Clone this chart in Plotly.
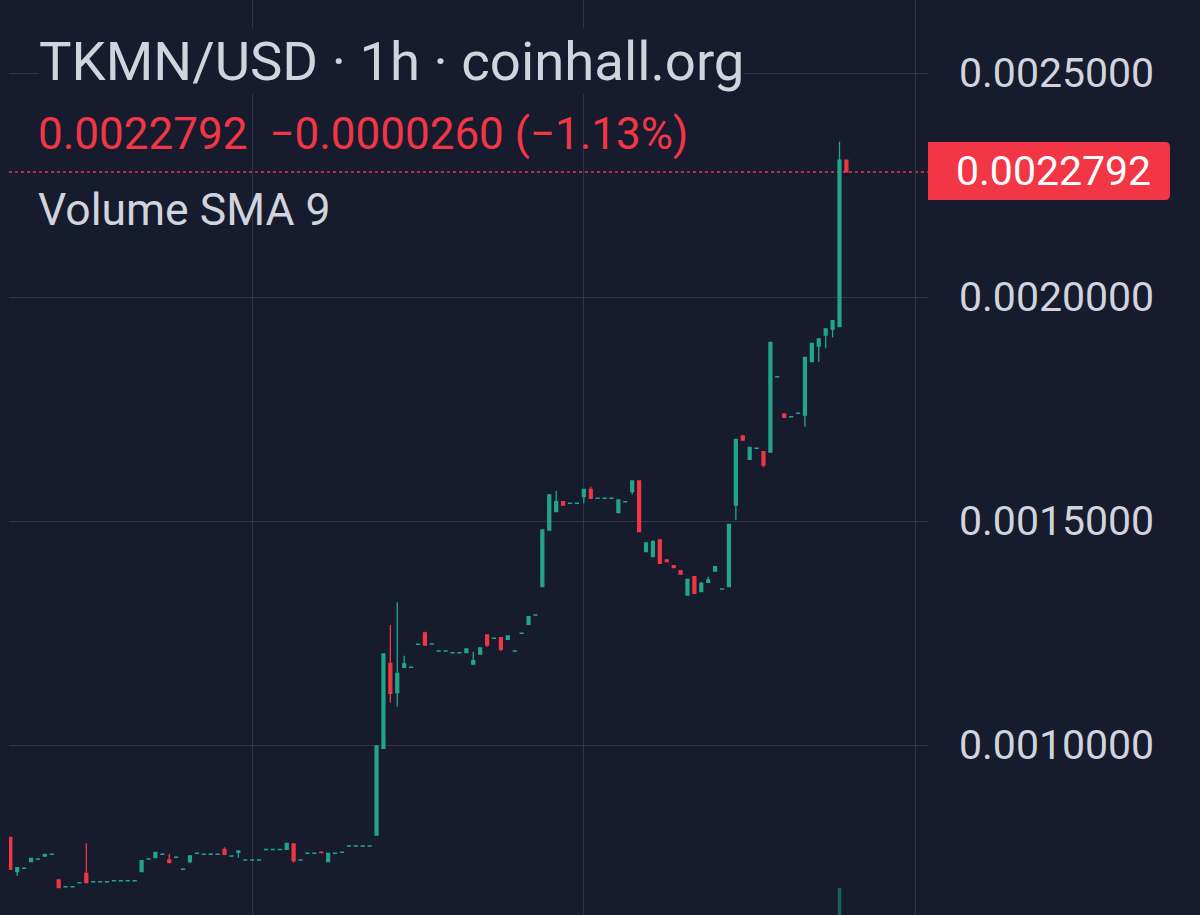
import plotly.graph_objects as go

# ---- data ----
open_ = [
    0.0007940, 0.0007172, 0.0007246, 0.0007395, 0.0007453, 0.0007522, 0.0007558, 0.0006987, 0.0006835, 0.0006835,
    0.0006924, 0.0007136, 0.0006947, 0.0006947, 0.0006947, 0.0006969, 0.0006969, 0.0006969, 0.0006969, 0.0007172,
    0.0007453, 0.0007484, 0.0007558, 0.0007433, 0.0007491, 0.0007223, 0.0007395, 0.0007581, 0.0007558, 0.0007558,
    0.0007558, 0.0007672, 0.0007520, 0.0007605, 0.0007431, 0.0007431, 0.0007431, 0.0007665, 0.0007665, 0.0007665,
    0.0007672, 0.0007790, 0.0007431, 0.0007581, 0.0007581, 0.0007610, 0.0007395, 0.0007581, 0.0007603, 0.0007744,
    0.0007744, 0.0007744, 0.0007744, 0.0007991, 0.0009926, 0.0011824, 0.0011167, 0.0011734, 0.0011732, 0.0012246,
    0.0012500, 0.0012252, 0.0012096, 0.0012096, 0.0012058, 0.0012058, 0.0012060, 0.0011808, 0.0012031, 0.0012455,
    0.0012380, 0.0012395, 0.0012359, 0.0012096, 0.0012491, 0.0012694, 0.0012900, 0.0013533, 0.0014799, 0.0015208,
    0.0015431, 0.0015393, 0.0015393, 0.0015542, 0.0015708, 0.0015505, 0.0015505, 0.0015505, 0.0015185, 0.0015429,
    0.0015654, 0.0015893, 0.0014315, 0.0014203, 0.0014576, 0.0014129, 0.0014002, 0.0013891, 0.0013348, 0.0013757,
    0.0013422, 0.0013632, 0.0013884, 0.0013480, 0.0013533, 0.0015357, 0.0016897, 0.0016377, 0.0016621, 0.0016547,
    0.0016540, 0.0018219, 0.0017388, 0.0017326, 0.0017402, 0.0017366, 0.0018556, 0.0018906, 0.0019152, 0.0019286,
    0.0019337, 0.0023052,
]
high = [
    0.0007940, 0.0007261, 0.0007250, 0.0007471, 0.0007457, 0.0007560, 0.0007562, 0.0006987, 0.0006839, 0.0006839,
    0.0006928, 0.0007806, 0.0006951, 0.0006951, 0.0006951, 0.0006973, 0.0006973, 0.0006973, 0.0006973, 0.0007417,
    0.0007457, 0.0007605, 0.0007562, 0.0007567, 0.0007495, 0.0007227, 0.0007522, 0.0007585, 0.0007562, 0.0007562,
    0.0007562, 0.0007717, 0.0007524, 0.0007634, 0.0007435, 0.0007435, 0.0007435, 0.0007669, 0.0007669, 0.0007669,
    0.0007806, 0.0007790, 0.0007435, 0.0007585, 0.0007585, 0.0007610, 0.0007583, 0.0007585, 0.0007607, 0.0007748,
    0.0007748, 0.0007748, 0.0007748, 0.0009978, 0.0012031, 0.0012679, 0.0013185, 0.0011993, 0.0011736, 0.0012250,
    0.0012529, 0.0012256, 0.0012100, 0.0012100, 0.0012062, 0.0012062, 0.0012143, 0.0012083, 0.0012165, 0.0012455,
    0.0012384, 0.0012395, 0.0012433, 0.0012100, 0.0012495, 0.0012864, 0.0012904, 0.0014799, 0.0015580, 0.0015676,
    0.0015431, 0.0015397, 0.0015397, 0.0015708, 0.0015766, 0.0015509, 0.0015509, 0.0015509, 0.0015469, 0.0015433,
    0.0015893, 0.0015893, 0.0014509, 0.0014576, 0.0014576, 0.0014129, 0.0014002, 0.0013891, 0.0013699, 0.0013757,
    0.0013645, 0.0013757, 0.0013980, 0.0013484, 0.0014926, 0.0016824, 0.0016897, 0.0016645, 0.0016625, 0.0016547,
    0.0018989, 0.0018223, 0.0017388, 0.0017330, 0.0017406, 0.0018654, 0.0018966, 0.0019062, 0.0019286, 0.0019471,
    0.0023466, 0.0023052,
]
low = [
    0.0007225, 0.0007076, 0.0007246, 0.0007395, 0.0007453, 0.0007522, 0.0007558, 0.0006815, 0.0006835, 0.0006835,
    0.0006924, 0.0006926, 0.0006947, 0.0006947, 0.0006947, 0.0006969, 0.0006969, 0.0006969, 0.0006969, 0.0007172,
    0.0007453, 0.0007484, 0.0007558, 0.0007373, 0.0007491, 0.0007223, 0.0007359, 0.0007581, 0.0007558, 0.0007558,
    0.0007558, 0.0007560, 0.0007520, 0.0007484, 0.0007431, 0.0007431, 0.0007431, 0.0007665, 0.0007665, 0.0007665,
    0.0007672, 0.0007373, 0.0007431, 0.0007581, 0.0007581, 0.0007600, 0.0007395, 0.0007581, 0.0007603, 0.0007744,
    0.0007744, 0.0007744, 0.0007744, 0.0007991, 0.0009926, 0.0010944, 0.0010855, 0.0011734, 0.0011732, 0.0012246,
    0.0012232, 0.0012252, 0.0012096, 0.0012096, 0.0012058, 0.0012058, 0.0012060, 0.0011808, 0.0012031, 0.0012194,
    0.0012380, 0.0012098, 0.0012359, 0.0012096, 0.0012491, 0.0012694, 0.0012900, 0.0013533, 0.0014799, 0.0015208,
    0.0015357, 0.0015393, 0.0015393, 0.0015395, 0.0015507, 0.0015505, 0.0015505, 0.0015505, 0.0015185, 0.0015429,
    0.0015592, 0.0014761, 0.0014315, 0.0014203, 0.0014056, 0.0014091, 0.0013958, 0.0013817, 0.0013348, 0.0013386,
    0.0013422, 0.0013632, 0.0013884, 0.0013480, 0.0013533, 0.0015022, 0.0016808, 0.0016377, 0.0016621, 0.0016199,
    0.0016540, 0.0018219, 0.0017315, 0.0017326, 0.0017402, 0.0017105, 0.0018556, 0.0018556, 0.0018855, 0.0019100,
    0.0019337, 0.0022792,
]
close = [
    0.0007225, 0.0007261, 0.0007250, 0.0007471, 0.0007457, 0.0007560, 0.0007562, 0.0006815, 0.0006839, 0.0006839,
    0.0006928, 0.0006926, 0.0006951, 0.0006951, 0.0006951, 0.0006973, 0.0006973, 0.0006973, 0.0006973, 0.0007417,
    0.0007457, 0.0007605, 0.0007562, 0.0007373, 0.0007495, 0.0007227, 0.0007522, 0.0007585, 0.0007562, 0.0007562,
    0.0007562, 0.0007560, 0.0007524, 0.0007634, 0.0007435, 0.0007435, 0.0007435, 0.0007669, 0.0007669, 0.0007669,
    0.0007806, 0.0007417, 0.0007435, 0.0007585, 0.0007585, 0.0007600, 0.0007583, 0.0007585, 0.0007607, 0.0007748,
    0.0007748, 0.0007748, 0.0007748, 0.0009978, 0.0012031, 0.0011154, 0.0011600, 0.0011808, 0.0011736, 0.0012250,
    0.0012232, 0.0012256, 0.0012100, 0.0012100, 0.0012062, 0.0012062, 0.0012143, 0.0011882, 0.0012165, 0.0012232,
    0.0012384, 0.0012136, 0.0012433, 0.0012100, 0.0012495, 0.0012864, 0.0012904, 0.0014799, 0.0015580, 0.0015431,
    0.0015357, 0.0015397, 0.0015397, 0.0015708, 0.0015507, 0.0015509, 0.0015509, 0.0015509, 0.0015469, 0.0015433,
    0.0015893, 0.0014761, 0.0014509, 0.0014538, 0.0014056, 0.0014091, 0.0013958, 0.0013817, 0.0013699, 0.0013386,
    0.0013609, 0.0013683, 0.0013980, 0.0013484, 0.0014926, 0.0016824, 0.0016808, 0.0016645, 0.0016625, 0.0016250,
    0.0018989, 0.0018223, 0.0017315, 0.0017330, 0.0017406, 0.0018654, 0.0018966, 0.0019062, 0.0019286, 0.0019471,
    0.0023052, 0.0022792,
]
bar_index = list(range(len(close)))

volume_index = [120]
volume = [1850000]

price_ticks = [0.0010, 0.0015, 0.0020, 0.0025]
price_tick_labels = ["0.0010000", "0.0015000", "0.0020000", "0.0025000"]
day_lines = [35, 83, 131]

last_price = 0.0022792
title_text = "TKMN/USD · 1h · coinhall.org"
change_text = "0.0022792  −0.0000260 (−1.13%)"
indicator_text = "Volume SMA 9"

# ---- style ----
BG = "#161c2d"
GRID = "#2f3546"
UP = "#22a58b"
DOWN = "#f23645"
TXT = "#d1d4dc"
FONT = "Roboto"

W, H = 1200, 915
L, R = 9, 272
PW = W - L - R


def px_x(px):
    return (px - L) / PW


def px_y(py):
    return 1 - py / H


fig = go.Figure()

fig.add_trace(go.Bar(
    x=volume_index, y=volume, yaxis="y2",
    marker=dict(color="rgba(34,165,139,0.5)", line=dict(width=0)),
    width=0.5, hoverinfo="skip", showlegend=False,
))

fig.add_trace(go.Candlestick(
    x=bar_index, open=open_, high=high, low=low, close=close,
    increasing=dict(line=dict(color=UP, width=1.3), fillcolor=UP),
    decreasing=dict(line=dict(color=DOWN, width=1.3), fillcolor=DOWN),
    whiskerwidth=0, showlegend=False,
))

# last price dotted line
fig.add_shape(type="line", xref="paper", yref="y", x0=0, x1=1, y0=last_price, y1=last_price,
              line=dict(color=DOWN, width=1.5, dash="dot"), layer="below")

# last price label box (rounded right corners)
x0, x1 = px_x(928), px_x(1170)
y0, y1 = px_y(200), px_y(142)
rx, ry = 5 / PW, 5 / H
path = (f"M {x0},{y1} L {x1-rx},{y1} Q {x1},{y1} {x1},{y1-ry} "
        f"L {x1},{y0+ry} Q {x1},{y0} {x1-rx},{y0} L {x0},{y0} Z")
fig.add_shape(type="path", xref="paper", yref="paper", path=path,
              fillcolor=DOWN, line=dict(width=0), layer="above")
fig.add_annotation(xref="paper", yref="paper", x=px_x(1053), y=px_y(171),
                   text=f"{last_price:.7f}", showarrow=False,
                   xanchor="center", yanchor="middle",
                   font=dict(family=FONT, size=41, color="#ffffff"))

# legend texts
fig.add_annotation(xref="paper", yref="paper", x=px_x(38), y=px_y(61),
                   text=title_text, showarrow=False, xanchor="left", yanchor="middle",
                   bgcolor=BG, borderpad=0,
                   font=dict(family=FONT, size=54.5, color=TXT))
fig.add_annotation(xref="paper", yref="paper", x=px_x(36), y=px_y(134),
                   text=change_text, showarrow=False, xanchor="left", yanchor="middle",
                   font=dict(family=FONT, size=44, color=DOWN))
fig.add_annotation(xref="paper", yref="paper", x=px_x(36), y=px_y(210),
                   text=indicator_text, showarrow=False, xanchor="left", yanchor="middle",
                   font=dict(family=FONT, size=44.5, color=TXT))

ymin = 0.001 - 170 * 0.0005 / 224
ymax = 0.001 + 745 * 0.0005 / 224
xmin = (L - 10.3) / 6.91
xmax = (928 - 10.3) / 6.91

fig.update_layout(
    width=W, height=H,
    margin=dict(l=L, r=R, t=0, b=0),
    paper_bgcolor=BG, plot_bgcolor=BG,
    boxgap=0.4,
    showlegend=False,
    hovermode=False,
    xaxis=dict(range=[xmin, xmax], rangeslider=dict(visible=False),
               tickvals=day_lines, showticklabels=False, ticks="",
               showgrid=True, gridcolor=GRID, gridwidth=1.2,
               zeroline=False, showline=False, fixedrange=True),
    yaxis=dict(range=[ymin, ymax], side="right",
               tickvals=price_ticks, ticktext=price_tick_labels,
               showgrid=True, gridcolor=GRID, gridwidth=1.2,
               ticks="", ticklabelstandoff=30,
               tickfont=dict(family=FONT, size=41, color=TXT),
               zeroline=False, showline=False, fixedrange=True),
    yaxis2=dict(overlaying="y", range=[0, volume[0] * H / 27], visible=False,
                fixedrange=True),
)

fig.write_html(
    "out.html",
    config={"displayModeBar": False},
    post_script="document.body.style.margin='0';document.body.style.background='" + BG + "';",
)
